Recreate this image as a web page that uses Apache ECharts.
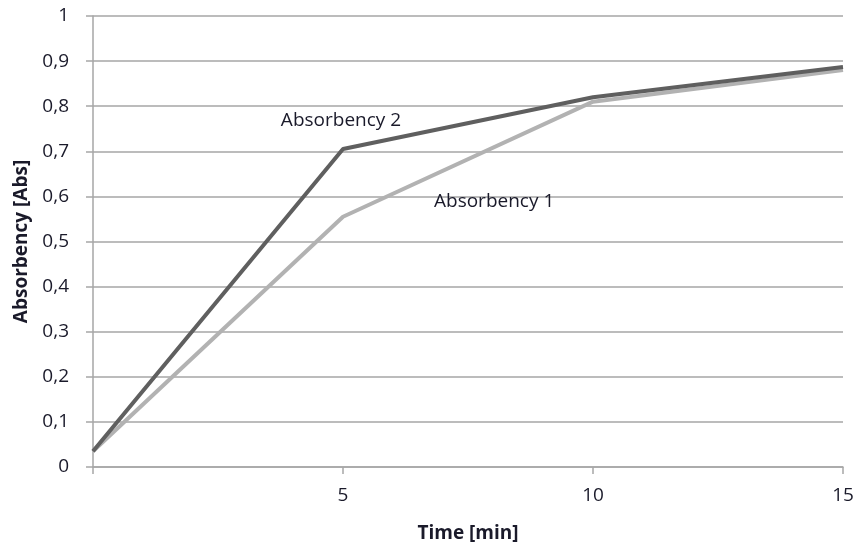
<!DOCTYPE html>
<html>
<head>
<meta charset="utf-8">
<script src="https://cdn.jsdelivr.net/npm/echarts@6/dist/echarts.min.js"></script>
<style>
  html, body { margin: 0; padding: 0; background: #fff; }
  #chart { width: 858px; height: 545px; }
</style>
</head>
<body>
<div id="chart"></div>
<script>
// Sampling times in minutes
const times = [0, 5, 10, 15];
// Measured absorbance for each run
const absorbency1 = [0.035, 0.555, 0.81, 0.88];
const absorbency2 = [0.035, 0.705, 0.82, 0.887];
const seriesNames = ['Absorbency 1', 'Absorbency 2'];
// Y tick values shown with a decimal comma
const yTicks = [0, 0.1, 0.2, 0.3, 0.4, 0.5, 0.6, 0.7, 0.8, 0.9, 1];

const font = '"Open Sans", "Noto Sans", sans-serif';
const fontSize = 19;
const gridColor = '#a6a6a6';
const textColor = '#1a1a2a';

function pairs(xs, ys) {
  return xs.map((x, i) => [x, ys[i]]);
}

const chart = echarts.init(document.getElementById('chart'), null, { renderer: 'canvas' });

chart.setOption({
  animation: false,
  backgroundColor: '#ffffff',
  grid: { left: 93, right: 15, top: 16, bottom: 78, containLabel: false, outerBoundsMode: 'none' },
  xAxis: {
    type: 'value',
    min: 0, max: 15, interval: 5,
    name: 'Time [min]',
    nameLocation: 'middle',
    nameGap: 57,
    nameTextStyle: { fontFamily: font, fontSize: fontSize, fontWeight: 'bold', color: textColor },
    axisLine: { show: true, lineStyle: { color: gridColor, width: 1.5 } },
    axisTick: { show: true, length: 7, lineStyle: { color: gridColor, width: 1.5 } },
    axisLabel: {
      margin: 19,
      fontFamily: font, fontSize: fontSize, color: textColor,
      formatter: v => (v === 0 ? '' : String(v))
    },
    splitLine: { show: false }
  },
  yAxis: {
    type: 'value',
    min: 0, max: 1, interval: 0.1,
    name: 'Absorbency [Abs]',
    nameLocation: 'middle',
    nameGap: 61,
    nameRotate: 90,
    nameTextStyle: { fontFamily: font, fontSize: fontSize, fontWeight: 'bold', color: textColor },
    axisLine: { show: true, lineStyle: { color: gridColor, width: 1.5 } },
    axisTick: { show: true, length: 7, lineStyle: { color: gridColor, width: 1.5 } },
    axisLabel: {
      margin: 24,
      fontFamily: font, fontSize: fontSize, color: textColor,
      formatter: v => {
        const t = yTicks.find(k => Math.abs(k - v) < 1e-9);
        const val = t === undefined ? v : t;
        return String(Math.round(val * 10) / 10).replace('.', ',');
      }
    },
    splitLine: { show: true, lineStyle: { color: gridColor, width: 1.5 } }
  },
  series: [
    {
      name: seriesNames[0],
      type: 'line',
      data: pairs(times, absorbency1).map((p, i) => i === 1 ? {
        value: p,
        label: {
          show: true, formatter: seriesNames[0], position: 'right',
          offset: [86, -15], fontFamily: font, fontSize: fontSize, color: textColor
        }
      } : p),
      symbol: 'circle',
      symbolSize: 0,
      showSymbol: true,
      lineStyle: { color: '#b2b2b2', width: 4 },
      z: 2
    },
    {
      name: seriesNames[1],
      type: 'line',
      data: pairs(times, absorbency2).map((p, i) => i === 1 ? {
        value: p,
        label: {
          show: true, formatter: seriesNames[1], position: 'top',
          offset: [-2, -14], fontFamily: font, fontSize: fontSize, color: textColor
        }
      } : p),
      symbol: 'circle',
      symbolSize: 0,
      showSymbol: true,
      lineStyle: { color: '#5f5f5f', width: 4 },
      z: 3
    }
  ]
});
</script>
</body>
</html>
